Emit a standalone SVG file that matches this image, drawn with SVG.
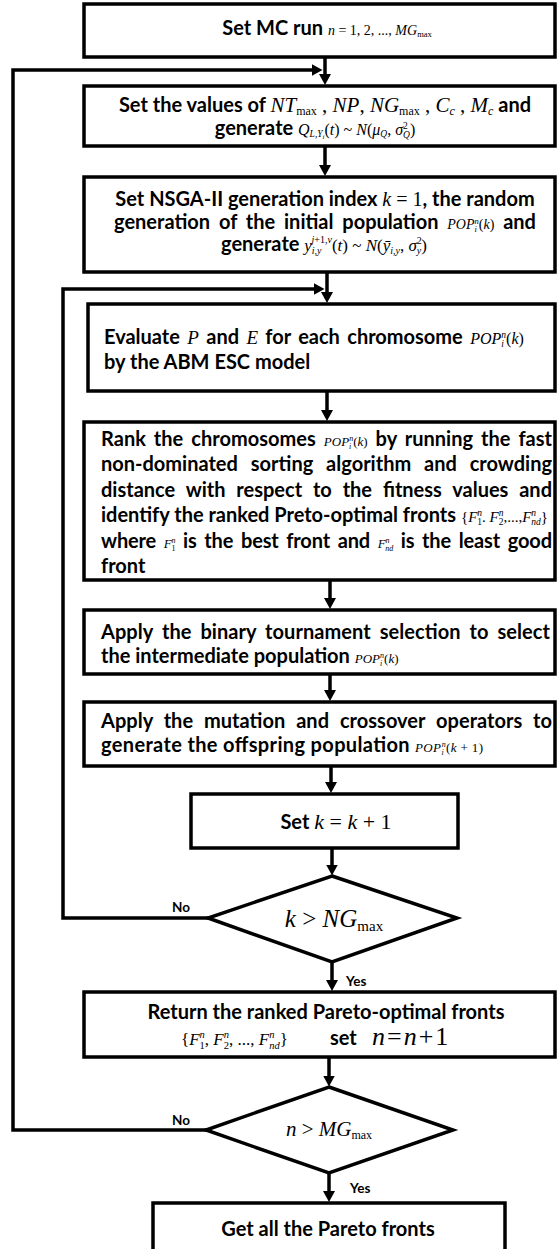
<svg xmlns="http://www.w3.org/2000/svg" width="557" height="1249" viewBox="0 0 557 1249">
  <style>
    .box { fill: #fff; stroke: #000; stroke-width: 3.5; }
    .ln { fill: none; stroke: #000; stroke-width: 3.5; }
    .t { font-family: Lato, "Open Sans", sans-serif; font-weight: 700; font-size: 20px; fill: #000; }
    .m { font-family: "Liberation Serif", "Times New Roman", serif; font-weight: 400; }
    .i { font-style: italic; }
    .lbl { font-family: Lato, "Open Sans", sans-serif; font-weight: 700; font-size: 13.5px; fill: #000; }
  </style>
  <defs>
    <marker id="ah" markerUnits="userSpaceOnUse" markerWidth="12" markerHeight="12" refX="0.5" refY="6" orient="auto">
      <path d="M0,0 L11,6 L0,12 z" fill="#000"/>
    </marker>
  </defs>

  <!-- connectors -->
  <g id="connectors" class="ln" marker-end="url(#ah)">
    <path d="M325,58 V74.5"/>
    <path d="M325,146 V165.5"/>
    <path d="M327,272 V292.5"/>
    <path d="M327,391 V410.5"/>
    <path d="M330,580 V598.5"/>
    <path d="M330,674 V690.5"/>
    <path d="M331,766 V782.5"/>
    <path d="M332,848 V865"/>
    <path d="M332,962 V980.5"/>
    <path d="M329,1057 V1076"/>
    <path d="M329,1173 V1191.5"/>
    <!-- inner NSGA-II generation loop -->
    <path d="M208,918 H63 V289 H314"/>
    <!-- outer MC run loop -->
    <path d="M206,1130 H13 V70 H312"/>
  </g>

  <g id="n1">
    <rect class="box" x="84" y="4" width="471" height="53"/>
    <text class="t" x="327" y="35" text-anchor="middle">Set MC run <tspan class="m" font-size="14"><tspan class="i">n</tspan> = 1, 2, ..., <tspan class="i">MG</tspan><tspan font-size="8.5" dy="2">max</tspan></tspan></text>
  </g>

  <g id="n2">
    <rect class="box" x="84" y="86" width="471" height="60"/>
    <text class="t" x="325" y="112" text-anchor="middle">Set the values of <tspan class="m" font-size="21"><tspan class="i">NT</tspan><tspan font-size="12" dy="3">max</tspan><tspan dy="-3"> , </tspan><tspan class="i">NP</tspan>, <tspan class="i">NG</tspan><tspan font-size="12" dy="3">max</tspan><tspan dy="-3"> , </tspan><tspan class="i">C</tspan><tspan class="i" font-size="12" dy="3">c</tspan><tspan dy="-3"> , </tspan><tspan class="i">M</tspan><tspan class="i" font-size="12" dy="3">c</tspan></tspan><tspan dy="-3"> and</tspan></text>
    <text class="t" x="315" y="135" text-anchor="middle">generate <tspan class="m" font-size="16"><tspan class="i">Q</tspan><tspan class="i" font-size="9.5" dy="2">L,Y</tspan><tspan class="i" font-size="7" dy="1.5">i</tspan><tspan dy="-3.5">(</tspan><tspan class="i">t</tspan>) ~ <tspan class="i">N</tspan>(<tspan class="i">μ</tspan><tspan class="i" font-size="9.5" dy="2">Q</tspan><tspan dy="-2">, </tspan><tspan class="i">σ</tspan><tspan font-size="9.5" dy="-6">2</tspan><tspan class="i" font-size="9.5" dx="-4.8" dy="9">Q</tspan><tspan dy="-3">)</tspan></tspan></text>
  </g>

  <g id="n3">
    <rect class="box" x="84" y="177" width="471" height="95"/>
    <text class="t" x="325" y="206" text-anchor="middle">Set NSGA-II generation index <tspan class="m" font-size="20"><tspan class="i">k</tspan> = 1</tspan>, the random</text>
    <text class="t" x="325" y="229" text-anchor="middle" word-spacing="4">generation of the initial population <tspan class="m" font-size="14" word-spacing="0"><tspan class="i">POP</tspan><tspan class="i" font-size="8.5" dy="3">i</tspan><tspan class="i" font-size="8.5" dx="-2.4" dy="-8">n</tspan><tspan dy="5">(</tspan><tspan class="i">k</tspan>)</tspan> and</text>
    <text class="t" x="324" y="251" text-anchor="middle">generate <tspan class="m" font-size="17"><tspan class="i">y</tspan><tspan class="i" font-size="10" dy="3">i,y</tspan><tspan font-size="10" dx="-10" dy="-11"><tspan class="i">j</tspan>+1,<tspan class="i">v</tspan></tspan><tspan dy="8">(</tspan><tspan class="i">t</tspan>) ~ <tspan class="i">N</tspan>(<tspan class="i">ȳ</tspan><tspan class="i" font-size="10" dy="3">i,y</tspan><tspan dy="-3">, </tspan><tspan class="i">σ</tspan><tspan font-size="10" dy="-7">2</tspan><tspan class="i" font-size="10" dx="-5" dy="10">y</tspan><tspan dy="-3">)</tspan></tspan></text>
  </g>

  <g id="n4">
    <rect class="box" x="88" y="304" width="467" height="87"/>
    <text class="t" x="104" y="344" word-spacing="2.5">Evaluate <tspan class="m i" font-size="19">P</tspan> and <tspan class="m i" font-size="19">E</tspan> for each chromosome <tspan class="m" font-size="16" word-spacing="0"><tspan class="i">POP</tspan><tspan class="i" font-size="9.5" dy="3">i</tspan><tspan class="i" font-size="9.5" dx="-2.6" dy="-9">n</tspan><tspan dy="6">(</tspan><tspan class="i">k</tspan>)</tspan></text>
    <text class="t" x="104" y="369">by the ABM ESC model</text>
  </g>

  <g id="n5">
    <rect class="box" x="84" y="422" width="471" height="158"/>
    <text class="t" x="101" y="446" word-spacing="3" textLength="451" lengthAdjust="spacing">Rank the chromosomes <tspan class="m" font-size="13"><tspan class="i">POP</tspan><tspan class="i" font-size="8" dy="3">i</tspan><tspan class="i" font-size="8" dx="-2.2" dy="-8">n</tspan><tspan dy="5">(</tspan><tspan class="i">k</tspan>)</tspan> by running the fast</text>
    <text class="t" x="101" y="471" word-spacing="8" textLength="451" lengthAdjust="spacing">non-dominated sorting algorithm and crowding</text>
    <text class="t" x="101" y="497" word-spacing="6" textLength="451" lengthAdjust="spacing">distance with respect to the fitness values and</text>
    <text class="t" x="101" y="522">identify the ranked Preto-optimal fronts <tspan class="m" font-size="15">{<tspan class="i">F</tspan><tspan font-size="9.5" dy="3">1</tspan><tspan class="i" font-size="9.5" dx="-4.8" dy="-9">n</tspan><tspan dy="6">. </tspan><tspan class="i">F</tspan><tspan font-size="9.5" dy="3">2</tspan><tspan class="i" font-size="9.5" dx="-4.8" dy="-9">n</tspan><tspan dy="6">,...,</tspan><tspan class="i">F</tspan><tspan class="i" font-size="9.5" dy="-6">n</tspan><tspan class="i" font-size="9.5" dx="-4.8" dy="9">nd</tspan><tspan dy="-3">}</tspan></tspan></text>
    <text class="t" x="101" y="548" word-spacing="3" textLength="451" lengthAdjust="spacing">where <tspan class="m" font-size="13"><tspan class="i">F</tspan><tspan font-size="8" dy="3">1</tspan><tspan class="i" font-size="8" dx="-4" dy="-8">n</tspan></tspan><tspan dy="5"> is the best front and </tspan><tspan class="m" font-size="13"><tspan class="i">F</tspan><tspan class="i" font-size="8" dy="-5">n</tspan><tspan class="i" font-size="8" dx="-4" dy="8">nd</tspan></tspan><tspan dy="-3"> is the least good</tspan></text>
    <text class="t" x="101" y="573">front</text>
  </g>

  <g id="n6">
    <rect class="box" x="84" y="610" width="471" height="64"/>
    <text class="t" x="101" y="639" word-spacing="4" textLength="449" lengthAdjust="spacing">Apply the binary tournament selection to select</text>
    <text class="t" x="101" y="663">the intermediate population <tspan class="m" font-size="13"><tspan class="i">POP</tspan><tspan class="i" font-size="8" dy="3">i</tspan><tspan class="i" font-size="8" dx="-2.2" dy="-8">n</tspan><tspan dy="5">(</tspan><tspan class="i">k</tspan>)</tspan></text>
  </g>

  <g id="n7">
    <rect class="box" x="84" y="702" width="471" height="64"/>
    <text class="t" x="101" y="728" word-spacing="6" textLength="451" lengthAdjust="spacing">Apply the mutation and crossover operators to</text>
    <text class="t" x="101" y="752" textLength="382" lengthAdjust="spacing">generate the offspring population <tspan class="m" font-size="13"><tspan class="i">POP</tspan><tspan class="i" font-size="8" dy="3">i</tspan><tspan class="i" font-size="8" dx="-2.2" dy="-8">n</tspan><tspan dy="5">(</tspan><tspan class="i">k</tspan> + 1)</tspan></text>
  </g>

  <g id="n8">
    <rect class="box" x="191" y="794" width="267" height="54"/>
    <text class="t" x="336" y="829" text-anchor="middle">Set <tspan class="m" font-size="22"><tspan class="i">k</tspan> = <tspan class="i">k</tspan> + 1</tspan></text>
  </g>

  <g id="d1">
    <path class="box" d="M332,876 L457,918 L332,962 L208,918 Z"/>
    <text class="m" x="334" y="927" font-size="25" text-anchor="middle"><tspan class="i">k</tspan> &gt; <tspan class="i">NG</tspan><tspan font-size="15" dy="4">max</tspan></text>
  </g>

  <g id="n9">
    <rect class="box" x="84" y="992" width="471" height="65"/>
    <text class="t" x="326" y="1019" text-anchor="middle">Return the ranked Pareto-optimal fronts</text>
    <text class="t" y="1045"><tspan class="m" x="181" font-size="17">{<tspan class="i">F</tspan><tspan font-size="10.5" dy="4">1</tspan><tspan class="i" font-size="10.5" dx="-5.2" dy="-11">n</tspan><tspan dy="7">, </tspan><tspan class="i">F</tspan><tspan font-size="10.5" dy="4">2</tspan><tspan class="i" font-size="10.5" dx="-5.2" dy="-11">n</tspan><tspan dy="7">, ..., </tspan><tspan class="i">F</tspan><tspan class="i" font-size="10.5" dy="-7">n</tspan><tspan class="i" font-size="10.5" dx="-5.2" dy="11">nd</tspan><tspan dy="-4">}</tspan></tspan><tspan x="330">set</tspan><tspan class="m" x="372" font-size="26"><tspan class="i">n</tspan><tspan dx="2">=</tspan><tspan class="i" dx="2">n</tspan><tspan dx="2">+</tspan><tspan dx="2">1</tspan></tspan></text>
  </g>

  <g id="d2">
    <path class="box" d="M329,1087 L453,1130 L329,1173 L206,1130 Z"/>
    <text class="m" x="329" y="1136" font-size="21" text-anchor="middle"><tspan class="i">n</tspan> &gt; <tspan class="i">MG</tspan><tspan font-size="12" dy="3">max</tspan></text>
  </g>

  <g id="n10">
    <rect class="box" x="153" y="1203" width="352" height="70"/>
    <text class="t" x="328" y="1236" text-anchor="middle">Get all the Pareto fronts</text>
  </g>

  <g id="labels">
    <text class="lbl" x="172" y="912">No</text>
    <text class="lbl" x="346" y="986">Yes</text>
    <text class="lbl" x="172" y="1125">No</text>
    <text class="lbl" x="350" y="1193">Yes</text>
  </g>
</svg>
